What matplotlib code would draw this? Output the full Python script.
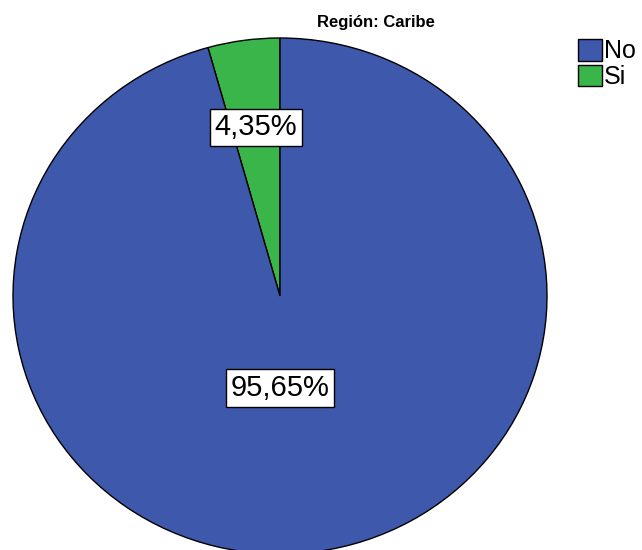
import matplotlib.pyplot as plt
import numpy as np

plt.rcParams['font.family'] = ['Liberation Sans', 'DejaVu Sans']

# data
categories = ['No', 'Si']
percents = [95.65, 4.35]
pct_labels = ['95,65%', '4,35%']
colors = ['#3E58AC', '#3AB54A']
label_dist = [0.36, 0.66]

W, H = 642, 550
fig = plt.figure(figsize=(W / 100, H / 100), dpi=100)

# pie is a bit squashed in the original, so aspect is not equal
cx, cy, rx, ry = 280, 296, 267, 258
ax = fig.add_axes([(cx - rx) / W, (H - cy - ry) / H, 2 * rx / W, 2 * ry / H])

# Si goes counterclockwise from 12 o'clock, so draw Si first
wedges, _ = ax.pie(percents[::-1], colors=colors[::-1], startangle=90,
                   counterclock=True, radius=1,
                   wedgeprops=dict(edgecolor='black', linewidth=1))
ax.set_xlim(-1, 1)
ax.set_ylim(-1, 1)
ax.set_aspect('auto')
ax.axis('off')

for w, lab, d in zip(wedges, pct_labels[::-1], label_dist[::-1]):
    mid = np.deg2rad((w.theta1 + w.theta2) / 2)
    x = d * np.cos(mid)
    if lab == '95,65%':
        x = 0.0
    ax.text(x, d * np.sin(mid), lab, ha='center', va='center', fontsize=21,
            bbox=dict(boxstyle='square,pad=0.16', fc='white', ec='black', lw=1))

fig.text(376 / W, 1 - 23 / H, 'Región: Caribe', ha='center', va='center',
         fontsize=12, fontweight='bold')

handles = [plt.Rectangle((0, 0), 1, 1, fc=c, ec='black', lw=1) for c in colors]
fig.legend(handles, categories, loc='upper left', bbox_to_anchor=(578 / W, 1 - 39 / H),
           frameon=False, fontsize=18, handlelength=0.95, handleheight=0.95,
           handletextpad=0.08, labelspacing=0.05, borderpad=0, borderaxespad=0)

fig.savefig('out.png', dpi=100)
